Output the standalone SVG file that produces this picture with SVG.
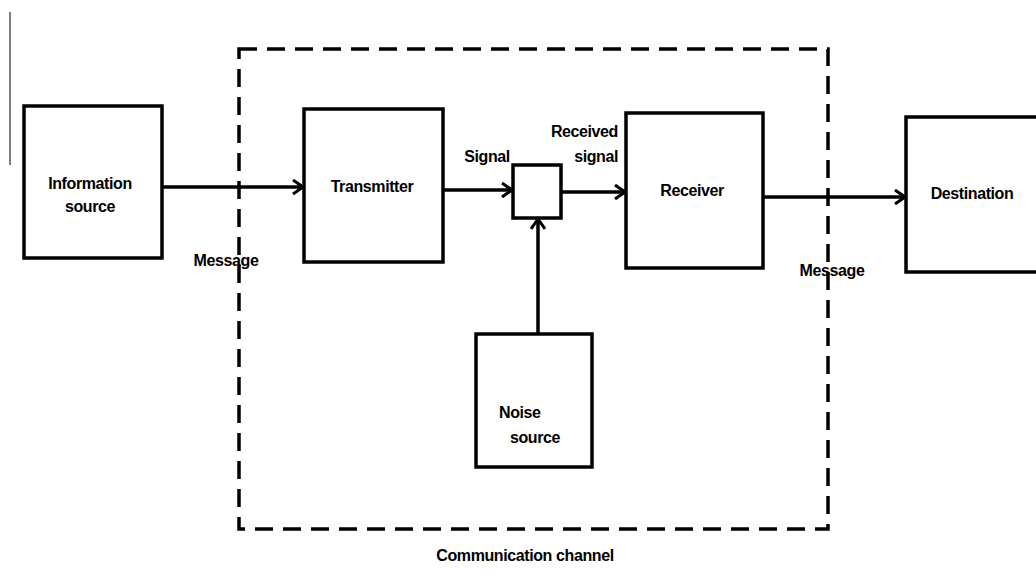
<svg xmlns="http://www.w3.org/2000/svg" width="1036" height="583" viewBox="0 0 1036 583">
<style>
.box{fill:#fff;stroke:#000;stroke-width:3.5}
.lbl{font-family:"Liberation Sans",Arial,sans-serif;font-size:16px;font-weight:bold;letter-spacing:-0.4px;fill:#000}
.c{text-anchor:middle}
.conn{stroke:#000;stroke-width:3.5;fill:none;marker-end:url(#arr)}
.dash{fill:none;stroke:#000;stroke-width:3.5;stroke-dasharray:18 10}
</style>
<defs>
<marker id="arr" viewBox="0 0 12 16" refX="11" refY="8" markerWidth="12" markerHeight="16" markerUnits="userSpaceOnUse" orient="auto">
<path d="M1,1 L11,8 L1,15" fill="none" stroke="#000" stroke-width="3"/>
</marker>
</defs>
<rect width="1036" height="583" fill="#fff"/>
<line x1="10" y1="12" x2="10" y2="165" stroke="#000" stroke-width="1"/>
<g id="channel">
<rect class="dash" x="239" y="49" width="589" height="480"/>
<text class="lbl c" x="525" y="561">Communication channel</text>
</g>
<g id="connectors">
<line class="conn" x1="162" y1="187" x2="303" y2="187"/>
<line class="conn" x1="443" y1="190" x2="512" y2="190"/>
<line class="conn" x1="561" y1="192" x2="625" y2="192"/>
<line class="conn" x1="763" y1="197" x2="905" y2="197"/>
<line class="conn" x1="538" y1="333" x2="538" y2="219"/>
<text class="lbl c" x="226" y="266">Message</text>
<text class="lbl c" x="832" y="276">Message</text>
<text class="lbl c" x="487" y="162">Signal</text>
<text class="lbl" x="618" y="137" text-anchor="end">Received</text>
<text class="lbl" x="618" y="162" text-anchor="end">signal</text>
</g>
<g id="info-source">
<rect class="box" x="24" y="106" width="138" height="152"/>
<text class="lbl c" x="90" y="189">Information</text>
<text class="lbl c" x="90" y="212">source</text>
</g>
<g id="transmitter">
<rect class="box" x="304" y="109" width="139" height="153"/>
<text class="lbl c" x="372" y="192">Transmitter</text>
</g>
<g id="adder">
<rect class="box" x="513" y="165" width="48" height="53"/>
</g>
<g id="receiver">
<rect class="box" x="626" y="113" width="137" height="155"/>
<text class="lbl c" x="692" y="196">Receiver</text>
</g>
<g id="destination">
<rect class="box" x="906" y="117" width="140" height="155"/>
<text class="lbl c" x="972" y="199">Destination</text>
</g>
<g id="noise-source">
<rect class="box" x="476" y="334" width="116" height="133"/>
<text class="lbl" x="499" y="418">Noise</text>
<text class="lbl" x="510" y="443">source</text>
</g>
</svg>
